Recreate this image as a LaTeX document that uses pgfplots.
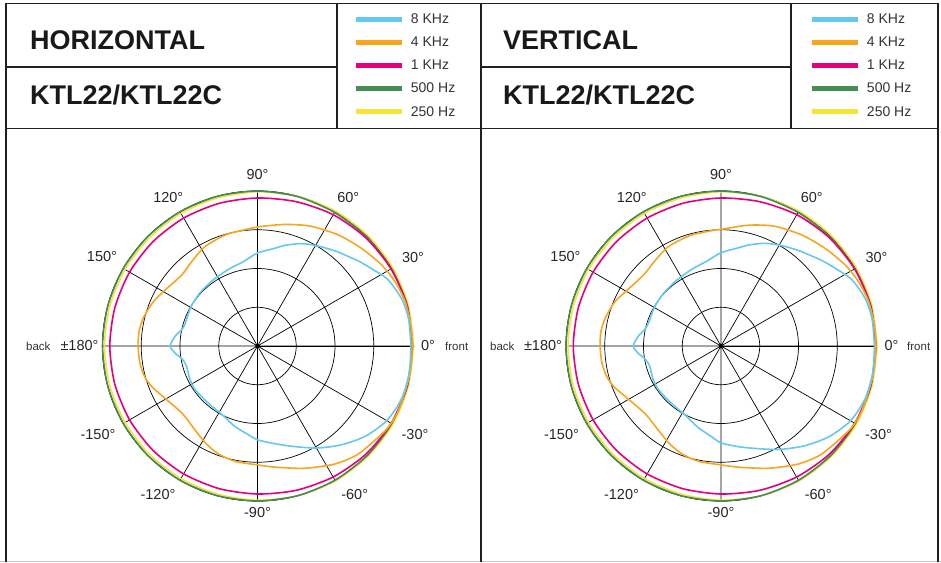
\documentclass[border=0pt]{standalone}
\usepackage{fontspec}
\setmainfont{Liberation Sans}
\usepackage{pgfplots}
\usepackage{pgfplotstable}
\pgfplotsset{compat=1.18}
\usepgfplotslibrary{polar}

\definecolor{c8k}{RGB}{100,200,240}
\definecolor{c4k}{RGB}{247,166,30}
\definecolor{c1k}{RGB}{230,0,126}
\definecolor{c500}{RGB}{70,140,84}
\definecolor{c250}{RGB}{248,228,56}
\definecolor{frame}{RGB}{35,31,32}

% angle (deg)  relative level (1 = outer ring)
\pgfplotstableread{
a r
0 0.99
10 0.99
18 0.979
27 0.944
34 0.89
40 0.852
45 0.82
50 0.796
57 0.762
63 0.736
68 0.712
75 0.672
80 0.64
90 0.600
100 0.550
110 0.530
124 0.513
138 0.505
150 0.498
161 0.488
167 0.496
173 0.534
180 0.563
185 0.533
190 0.492
196 0.476
206 0.486
215 0.491
229 0.487
243 0.499
254 0.538
264 0.575
270 0.605
280 0.64
290 0.69
300 0.76
310 0.834
320 0.907
330 0.963
340 0.99
350 0.994
360 0.99
}\horEight

\pgfplotstableread{
a r
0 1.0
8 0.999
17 0.994
25 0.979
33 0.957
43 0.921
54 0.886
66 0.846
77 0.805
89 0.77
96 0.755
106 0.746
118 0.725
128 0.69
137 0.67
148 0.694
157 0.73
166 0.758
173 0.77
180 0.77
188 0.767
195 0.755
201 0.731
210 0.683
222 0.652
233 0.674
242 0.711
250 0.74
259 0.758
270 0.767
278 0.789
291 0.845
303 0.909
312 0.95
320 0.968
328 0.993
336 1.0
350 1.0
360 1.0
}\horFour

\pgfplotstableread{
a r
0 0.99
10 0.99
18 0.98
27 0.946
34 0.893
40 0.855
45 0.823
50 0.798
57 0.765
63 0.738
68 0.714
75 0.674
80 0.643
90 0.602
100 0.553
110 0.531
124 0.512
138 0.503
150 0.497
161 0.49
167 0.5
173 0.536
180 0.566
185 0.536
190 0.495
196 0.478
206 0.488
215 0.492
229 0.489
243 0.503
254 0.545
264 0.588
270 0.625
280 0.66
290 0.705
300 0.77
310 0.84
320 0.91
330 0.965
340 0.99
350 0.994
360 0.99
}\verEight

\pgfplotstableread{
a r
0 1.0
8 0.999
17 0.994
25 0.979
33 0.957
43 0.921
54 0.886
66 0.846
77 0.8
89 0.755
96 0.745
106 0.74
118 0.725
128 0.695
137 0.678
148 0.7
157 0.74
166 0.768
173 0.78
180 0.78
188 0.776
195 0.763
201 0.738
210 0.688
222 0.656
233 0.676
242 0.712
250 0.74
259 0.758
270 0.767
278 0.789
291 0.845
303 0.909
312 0.95
320 0.968
328 0.993
336 1.0
350 1.0
360 1.0
}\verFour

\pgfplotstableread{
a r
0 1.0
15 1.0
30 0.995
45 0.988
60 0.978
75 0.964
90 0.955
105 0.953
120 0.953
135 0.953
150 0.953
165 0.953
180 0.953
195 0.953
210 0.953
225 0.953
240 0.953
255 0.953
270 0.955
285 0.964
300 0.976
315 0.988
330 0.996
345 1.0
360 1.0
}\oneK

\pgfplotstableread{
a r
0 1.0
15 1.0
30 0.998
45 0.995
60 0.995
75 0.998
90 1.0
105 1.0
120 1.0
135 1.0
150 1.0
165 1.0
180 1.0
195 1.0
210 1.0
225 1.0
240 1.0
255 1.0
270 1.0
285 1.0
300 1.0
315 1.0
330 1.0
345 1.0
360 1.0
}\fiveH

\pgfplotstableread{
a r
0 1.007
15 1.007
30 1.008
45 1.007
60 1.005
75 1.0
90 0.995
105 0.99
120 0.988
135 0.987
150 0.987
165 0.987
180 0.987
195 0.987
210 0.987
225 0.987
240 0.988
255 0.99
270 0.995
285 1.0
300 1.005
315 1.007
330 1.008
345 1.007
360 1.007
}\twoFiftyH

% offset of each angle label's centre from its point on the outer ring
\newcommand\setlabshift{%
  \ifcase\ticknum
    \def\lsx{15.5pt}\def\lsy{0pt}%
  \or \def\lsx{21.3pt}\def\lsy{10.5pt}%
  \or \def\lsx{13.3pt}\def\lsy{14.3pt}%
  \or \def\lsx{0pt}\def\lsy{16pt}%
  \or \def\lsx{-11.7pt}\def\lsy{14.3pt}%
  \or \def\lsx{-21.3pt}\def\lsy{11.5pt}%
  \or \def\lsx{-23pt}\def\lsy{0pt}%
  \or \def\lsx{-25.3pt}\def\lsy{-11.5pt}%
  \or \def\lsx{-22pt}\def\lsy{-14pt}%
  \or \def\lsx{0pt}\def\lsy{-11.5pt}%
  \or \def\lsx{19.7pt}\def\lsy{-14pt}%
  \else \def\lsx{23.3pt}\def\lsy{-11.5pt}%
  \fi}

\pgfplotsset{
  dirplot/.style={
    scale only axis, width=310pt, height=310pt,
    anchor=center,
    xmin=0, xmax=360, ymin=0, ymax=1,
    xtick={0,30,...,330},
    xticklabels={0°,30°,60°,90°,120°,150°,±180°,-150°,-120°,-90°,-60°,-30°},
    ytick={0.25,0.5,0.75,1}, yticklabels={},
    grid=major,
    major grid style={black, line width=0.7pt},
    axis line style={black, line width=0.7pt},
    major tick length=0pt,
    clip=false,
    xticklabel style={font=\fontsize{14.5}{17}\selectfont, text=black!85,
      anchor=center, inner sep=0pt,
      /utils/exec=\setlabshift, shift={(\lsx,\lsy)}},
    legend image code/.code={\draw[##1, line width=5pt] (0pt,0pt) -- (46pt,0pt);},
    reverse legend,
    legend cell align=left,
    legend style={draw=none, fill=none, inner sep=0pt, outer sep=0pt,
      anchor=north west, text=black!80,
      font=\fontsize{14}{16}\selectfont, row sep=0pt, column sep=6pt,
      nodes={inner sep=0pt, minimum height=23.2pt}},
    every axis plot/.append style={line width=1.6pt, smooth, tension=0.45},
  },
}

\begin{document}
\begin{tikzpicture}
\useasboundingbox (0pt,0pt) rectangle (941pt,562pt);
\fill[white] (0pt,0pt) rectangle (941pt,562pt);

% horizontal
\begin{polaraxis}[dirplot, at={(257.5pt,216pt)},
    legend style={at={(0.811,1.592)}}]
  \addplot[c250] table[x=a, y=r] {\twoFiftyH};
  \addlegendentry{250 Hz}
  \addplot[c500] table[x=a, y=r] {\fiveH};
  \addlegendentry{500 Hz}
  \addplot[c1k] table[x=a, y=r] {\oneK};
  \addlegendentry{1 KHz}
  \addplot[c4k] table[x=a, y=r] {\horFour};
  \addlegendentry{4 KHz}
  \addplot[c8k] table[x=a, y=r] {\horEight};
  \addlegendentry{8 KHz}
\end{polaraxis}

% vertical
\begin{polaraxis}[dirplot, at={(721pt,216pt)},
    legend style={at={(0.787,1.592)}}]
  \addplot[c250] table[x=a, y=r] {\twoFiftyH};
  \addlegendentry{250 Hz}
  \addplot[c500] table[x=a, y=r] {\fiveH};
  \addlegendentry{500 Hz}
  \addplot[c1k] table[x=a, y=r] {\oneK};
  \addlegendentry{1 KHz}
  \addplot[c4k] table[x=a, y=r] {\verFour};
  \addlegendentry{4 KHz}
  \addplot[c8k] table[x=a, y=r] {\verEight};
  \addlegendentry{8 KHz}
\end{polaraxis}

\begin{scope}[x=1pt, y=1pt]
% side labels
\begin{scope}[every node/.style={font=\fontsize{11.5}{13}\selectfont, text=black!80, inner sep=0pt}]
  \node[anchor=base west] at (26,211.5) {back};
  \node[anchor=base west] at (445,211.5) {front};
  \node[anchor=base west] at (490,211.5) {back};
  \node[anchor=base west] at (907,211.5) {front};
\end{scope}

% titles
\begin{scope}[every node/.style={font=\bfseries\fontsize{27}{30}\selectfont, text=black!90, inner sep=0pt}]
  \node[anchor=base west] at (30,512.5) {HORIZONTAL};
  \node[anchor=base west] at (30,457) {KTL22/KTL22C};
  \node[anchor=base west] at (503,512.5) {VERTICAL};
  \node[anchor=base west] at (503,457) {KTL22/KTL22C};
\end{scope}

% frame
\draw[gray!45, line width=1pt] (0,0.5) -- (941,0.5);
\begin{scope}[frame, line width=1.8pt]
  \draw (6,0) -- (6,558.5) -- (938,558.5) -- (938,0);
  \draw (6,433.5) -- (938,433.5);
  \draw (481,0) -- (481,558.5);
  \draw (337,558.5) -- (337,433.5);
  \draw (791,558.5) -- (791,433.5);
  \draw (6,495.3) -- (337,495.3);
  \draw (481,495.3) -- (791,495.3);
\end{scope}
\end{scope}
\end{tikzpicture}
\end{document}
